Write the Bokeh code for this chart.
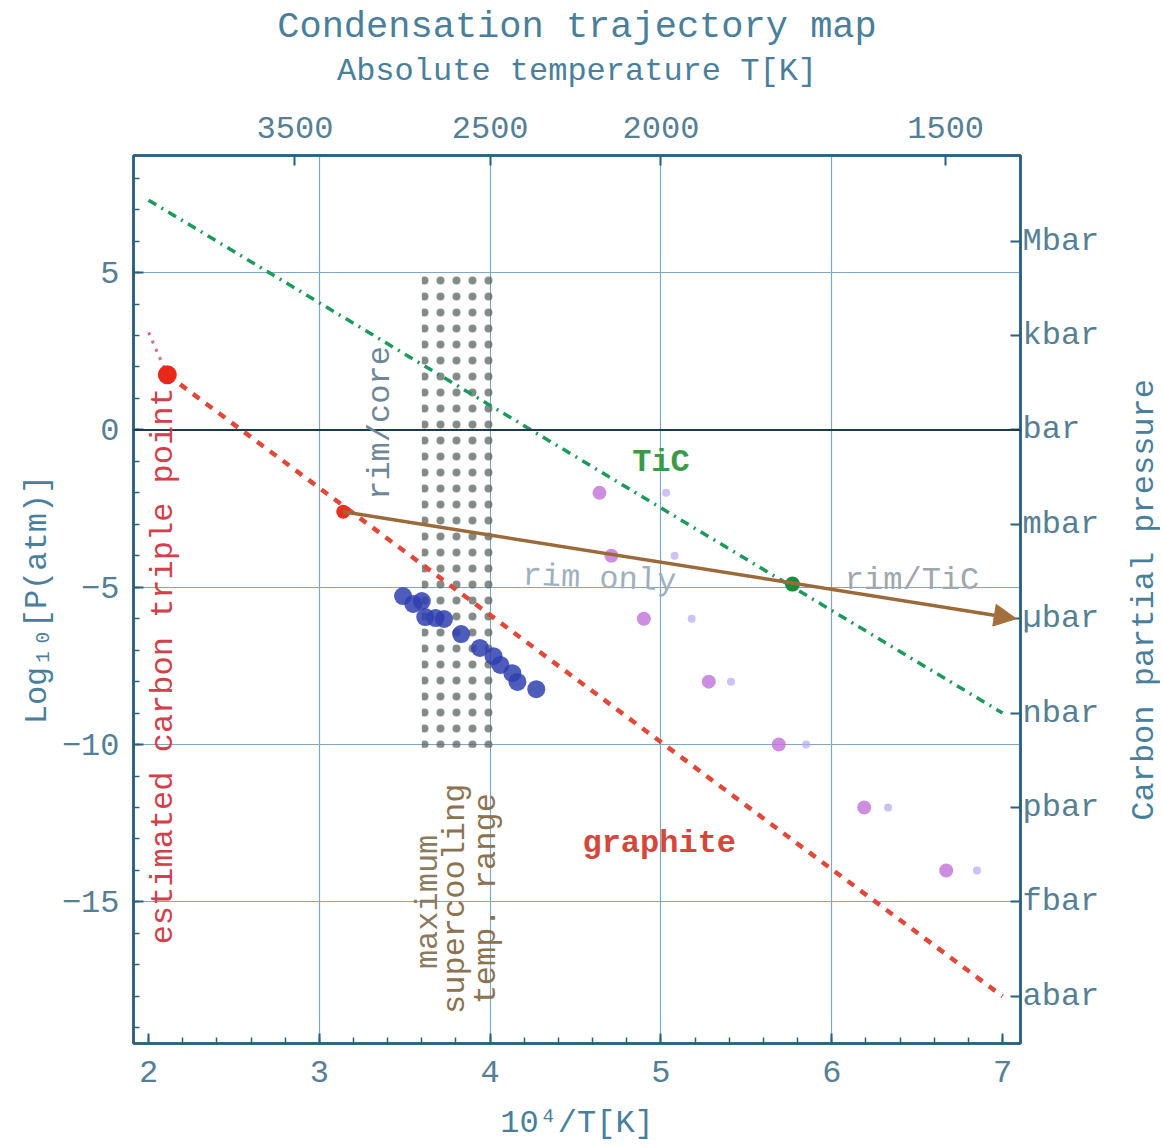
import math
import numpy as np
from bokeh.plotting import figure
from bokeh.layouts import row
from bokeh.models import (Range1d, LinearAxis, FixedTicker, SingleIntervalTicker,
                          CustomJSTickFormatter, Span, Arrow, NormalHead, Label)
from bokeh.embed import file_html
from bokeh.resources import INLINE

FONT = "Liberation Mono"

# ---------------- data ----------------
top_temps_K = [3500, 2500, 2000, 1500]
left_ticks = [5, 0, -5, -10, -15]
grid_x = [3, 4, 5, 6]
right_ticks = [6, 3, 0, -3, -6, -9, -12, -15, -18]
right_labels = ["Mbar", "kbar", "bar", "mbar", "µbar", "nbar", "pbar", "fbar", "abar"]

tic_x = [2.0, 7.0]
tic_y = [7.3, -9.0]
graphite_x = [2.11, 7.0]
graphite_y = [1.75, -18.0]
melt_x = [2.0, 2.11]
melt_y = [3.1, 1.75]
triple_x = [2.11]
triple_y = [1.75]
start_x = [3.14]
start_y = [-2.6]
traj_end_x = 7.08
traj_end_y = -6.0
tic_pt_x = [5.77]
tic_pt_y = [-4.9]

blue_x = [3.49, 3.55, 3.60, 3.62, 3.68, 3.73, 3.83, 3.94, 4.02, 4.06, 4.13, 4.16, 4.27]
blue_y = [-5.28, -5.53, -5.44, -5.95, -5.98, -6.01, -6.49, -6.93, -7.19, -7.47, -7.73, -8.01, -8.24]

purple_x = [4.64, 4.71, 4.90, 5.28, 5.69, 6.19, 6.67]
purple_y = [-2.0, -4.0, -6.0, -8.0, -10.0, -12.0, -14.0]
lav_x = [5.03, 5.08, 5.18, 5.41, 5.85, 6.33, 6.85]
lav_y = [-2.0, -4.0, -6.0, -8.0, -10.0, -12.0, -14.0]

supercool_x = [3.6, 4.02]
supercool_y = [-10.1, 5.1]

# ---------------- colours ----------------
AX = "#2b5f7e"
TXT = "#4a7f9c"
TICKTXT = "#557f95"

W, H = 1124, 1147
p = figure(width=W, height=H,
           x_range=Range1d(1.912, 7.105), y_range=Range1d(-19.5, 8.72),
           output_backend="svg", toolbar_location=None,
           min_border_left=133, min_border_right=104,
           min_border_top=155, min_border_bottom=104,
           title="Condensation trajectory map",
           background_fill_color="white", border_fill_color="white",
           outline_line_color=AX, outline_line_width=2.5)

p.title.text_font = FONT
p.title.text_font_size = "37px"
p.title.text_font_style = "normal"
p.title.text_color = TXT
p.title.align = "center"
p.title.standoff = 3
p.title.offset = 0

# bottom axis
xa = p.xaxis[0]
xa.ticker = SingleIntervalTicker(interval=1, num_minor_ticks=5)
xa.axis_label = "10⁴/T[K]"
xa.major_label_standoff = 17
xa.axis_label_standoff = 20

# left axis
ya = p.yaxis[0]
ya.ticker = SingleIntervalTicker(interval=5, num_minor_ticks=5)
ya.axis_label = "Log₁₀[P(atm)]"
ya.major_label_standoff = 14
ya.axis_label_standoff = 3

# top axis (temperature)
top = LinearAxis(ticker=FixedTicker(ticks=[1e4 / t for t in top_temps_K]),
                 formatter=CustomJSTickFormatter(code="return Math.round(1e4/tick).toString();"),
                 axis_label="Absolute temperature T[K]")
top.major_label_standoff = 18
top.axis_label_standoff = 24
p.add_layout(top, "above")

# right axis (pressure names)
right = LinearAxis(ticker=FixedTicker(ticks=right_ticks),
                   major_label_overrides=dict(zip(right_ticks, right_labels)))
right.major_label_standoff = 2
p.add_layout(right, "right")

for ax in [xa, ya, top, right]:
    ax.axis_line_color = AX
    ax.axis_line_width = 2.5
    ax.major_tick_in = 10
    ax.major_tick_out = 0
    ax.major_tick_line_color = AX
    ax.major_tick_line_width = 2
    ax.minor_tick_in = 6
    ax.minor_tick_out = 0
    ax.minor_tick_line_color = AX
    ax.minor_tick_line_width = 1.5
    ax.major_label_text_font = FONT
    ax.major_label_text_font_size = "32px"
    ax.major_label_text_color = TICKTXT
    ax.axis_label_text_font = FONT
    ax.axis_label_text_font_size = "32px"
    ax.axis_label_text_font_style = "normal"
    ax.axis_label_text_color = TXT
top.minor_tick_in = 0
right.minor_tick_in = 0

# grids
p.xgrid.ticker = FixedTicker(ticks=grid_x)
p.ygrid.ticker = FixedTicker(ticks=left_ticks)
for g in [p.xgrid[0], p.ygrid[0]]:
    g.grid_line_color = "#7fa8c8"
    g.grid_line_width = 1.2

# 1 bar line
p.add_layout(Span(location=0, dimension="width", line_color="#1e3a4a", line_width=2))

# supercooling band (dotted texture)
p.quad(left=supercool_x[0], right=supercool_x[1], bottom=supercool_y[0], top=supercool_y[1],
       fill_alpha=0, line_alpha=0, hatch_pattern=".", hatch_scale=16,
       hatch_color="#5c665f", hatch_weight=1.8, hatch_alpha=0.75)

# TiC line
p.line(tic_x, tic_y, line_color="#1c9a5c", line_width=3.5, line_dash="9 6 2 6")

# graphite line
p.line(graphite_x, graphite_y, line_color="#e0483a", line_width=4.5, line_dash="8 8")
p.line(melt_x, melt_y, line_color="#d86a8a", line_width=3, line_dash="3 6")

# purple / lavender points
p.scatter(purple_x, purple_y, size=14, fill_color="#c070d8", line_color=None, fill_alpha=0.8)
p.scatter(lav_x, lav_y, size=8, fill_color="#b8a8ee", line_color=None, fill_alpha=0.7)

# blue points
p.scatter(blue_x, blue_y, size=18, fill_color="#2f3fb0", line_color=None, fill_alpha=0.85)

# trajectory arrow
p.add_layout(Arrow(end=NormalHead(size=22, fill_color="#a36f3c", line_color="#a36f3c"),
                   x_start=start_x[0], y_start=start_y[0], x_end=traj_end_x, y_end=traj_end_y,
                   line_color="#9c6a3a", line_width=3.5))

# special points
p.scatter(triple_x, triple_y, size=19, fill_color="#e8281a", line_color=None)
p.scatter(start_x, start_y, size=14, fill_color="#e8301e", line_color=None)
p.scatter(tic_pt_x, tic_pt_y, size=15, fill_color="#1f8a3c", line_color=None)


def lab(fig, x, y, text, color, angle=0.0, style="normal", size="32px"):
    fig.add_layout(Label(x=x, y=y, text=text, angle=angle, text_font=FONT,
                         text_font_size=size, text_color=color, text_font_style=style,
                         text_align="center", text_baseline="middle"))


lab(p, 3.36, 0.22, "rim/core", "#6d8798", angle=np.pi / 2)
lab(p, 2.09, -7.5, "estimated carbon triple point", "#d2404a", angle=np.pi / 2)
lab(p, 3.64, -15.0, "maximum", "#8a7a5e", angle=np.pi / 2)
lab(p, 3.80, -14.9, "supercooling", "#8c7350", angle=np.pi / 2)
lab(p, 3.98, -14.9, "temp. range", "#8c7350", angle=np.pi / 2)
lab(p, 4.99, -13.13, "graphite", "#d4483c", style="bold")
lab(p, 5.0, -1.05, "TiC", "#3a9a48", style="bold")
lab(p, 4.64, -4.74, "rim only", "#9fb0bd", angle=-0.04)
lab(p, 6.47, -4.8, "rim/TiC", "#a0a6ae")

# strip on the right holding the right-hand axis title (reads bottom to top)
strip = figure(width=36, height=H, x_range=Range1d(0, 1), y_range=Range1d(0, H),
               output_backend="svg", toolbar_location=None,
               x_axis_location=None, y_axis_location=None,
               min_border_left=0, min_border_right=0, min_border_top=0, min_border_bottom=0,
               background_fill_color="white", border_fill_color="white",
               outline_line_color=None)
strip.xgrid.visible = False
strip.ygrid.visible = False
lab(strip, 0.55, H - 574, "Carbon partial pressure", TXT, angle=math.pi / 2)

layout = row(p, strip, spacing=0)
open("out.html", "w").write(file_html(layout, INLINE))
